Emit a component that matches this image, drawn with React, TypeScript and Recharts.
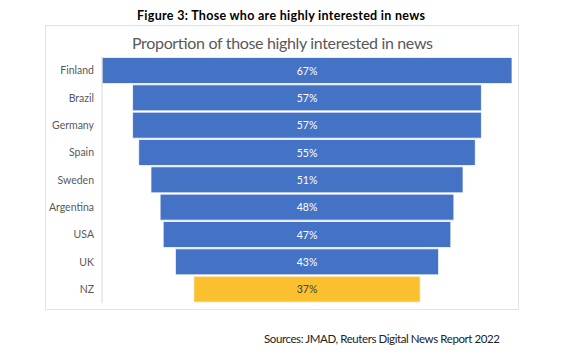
import React from 'react';
import { Bar, BarChart, Cell, LabelList, XAxis, YAxis } from 'recharts';

const countries = ['Finland', 'Brazil', 'Germany', 'Spain', 'Sweden', 'Argentina', 'USA', 'UK', 'NZ'];
const shares = [67, 57, 57, 55, 51, 48, 47, 43, 37];
const HIGHLIGHT = 'NZ';

const BLUE = '#4472C4';
const YELLOW = '#FBC02D';
const FONT = 'Lato, "Open Sans", sans-serif';

const maxShare = Math.max(...shares);

// centred bars: an invisible pad on the left pushes each bar to the middle
const data = countries.map((name, i) => ({
  name,
  pad: (maxShare - shares[i]) / 2,
  share: shares[i],
}));

const BarLabel = (props: any) => {
  const { x, y, width, height, value, index } = props;
  const dark = countries[index] === HIGHLIGHT;
  return (
    <text
      x={x + width / 2}
      y={y + height / 2}
      textAnchor="middle"
      dominantBaseline="central"
      fontFamily={FONT}
      fontSize={10.5}
      fill={dark ? '#404040' : '#ffffff'}
    >
      {value}%
    </text>
  );
};

const App: React.FC = () => {
  return (
    <div style={{ position: 'absolute', left: 0, top: 0, width: 576, height: 360, background: '#fff' }}>
      <svg width={576} height={360} style={{ position: 'absolute', left: 0, top: 0 }}>
        <text x={281} y={15} textAnchor="middle" dominantBaseline="central" fontFamily={FONT}
          fontWeight="bold" fontSize={12.5} fill="#000" textLength={288} lengthAdjust="spacing">
          Figure 3: Those who are highly interested in news
        </text>
        <rect x={45.5} y={25.5} width={473} height={284} fill="none" stroke="#e3e3e3" />
        <text x={282.5} y={42} textAnchor="middle" dominantBaseline="central" fontFamily={FONT}
          fontSize={16} fill="#595959" textLength={301} lengthAdjust="spacing">
          Proportion of those highly interested in news
        </text>
        <text x={264} y={338} dominantBaseline="central" fontFamily={FONT}
          fontSize={11.5} fill="#222" textLength={236} lengthAdjust="spacing">
          Sources: JMAD, Reuters Digital News Report 2022
        </text>
      </svg>
      <div style={{ position: 'absolute', left: 46, top: 57 }}>
        <BarChart
          width={466}
          height={246}
          data={data}
          layout="vertical"
          margin={{ top: 0, right: 0, bottom: 0, left: 0 }}
          barCategoryGap={0.5}
        >
          <XAxis type="number" domain={[0, maxShare]} hide />
          <YAxis
            type="category"
            dataKey="name"
            width={56}
            tickLine={false}
            axisLine={{ stroke: '#d9d9d9' }}
            tick={{ fill: '#595959', fontSize: 10.5, fontFamily: FONT }}
          />
          <Bar dataKey="pad" stackId="a" fill="transparent" isAnimationActive={false} />
          <Bar dataKey="share" stackId="a" stroke="#ffffff" strokeWidth={0.75} isAnimationActive={false}>
            {data.map((d) => (
              <Cell key={d.name} fill={d.name === HIGHLIGHT ? YELLOW : BLUE} />
            ))}
            <LabelList dataKey="share" content={BarLabel} />
          </Bar>
        </BarChart>
      </div>
    </div>
  );
};

export default App;
